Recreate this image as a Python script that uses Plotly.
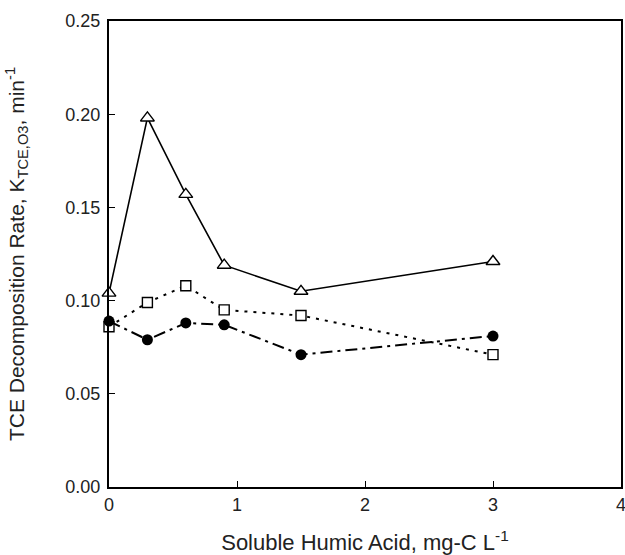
import plotly.graph_objects as go

x_vals = [0, 0.3, 0.6, 0.9, 1.5, 3.0]
triangle_vals = [0.104, 0.198, 0.157, 0.119, 0.105, 0.121]
square_vals = [0.086, 0.099, 0.108, 0.095, 0.092, 0.071]
circle_vals = [0.089, 0.079, 0.088, 0.087, 0.071, 0.081]

x_ticks = [0, 1, 2, 3, 4]
y_ticks = [0.00, 0.05, 0.10, 0.15, 0.20, 0.25]
y_tick_text = ["0.00", "0.05", "0.10", "0.15", "0.20", "0.25"]

fig = go.Figure()
fig.add_trace(go.Scatter(
    x=x_vals, y=triangle_vals, mode="lines+markers",
    line=dict(color="black", width=1.6, dash="solid"),
    marker=dict(symbol="triangle-up", size=12, color="white",
                line=dict(width=1.4, color="black")),
    cliponaxis=False, showlegend=False))
fig.add_trace(go.Scatter(
    x=x_vals, y=square_vals, mode="lines+markers",
    line=dict(color="black", width=2, dash="3px,6px"),
    marker=dict(symbol="square", size=10, color="white",
                line=dict(width=1.4, color="black")),
    cliponaxis=False, showlegend=False))
fig.add_trace(go.Scatter(
    x=x_vals, y=circle_vals, mode="lines+markers",
    line=dict(color="black", width=2, dash="12px,5px,3px,5px"),
    marker=dict(symbol="circle", size=11, color="black"),
    cliponaxis=False, showlegend=False))

font_family = "Liberation Sans, Arial, sans-serif"
fig.update_layout(
    width=625, height=555,
    margin=dict(l=109, r=4, t=21, b=68),
    paper_bgcolor="white", plot_bgcolor="white",
    font=dict(family=font_family, size=18, color="#222"),
    xaxis=dict(
        range=[0, 4], tickvals=x_ticks, ticks="inside", ticklen=6, tickwidth=1.2,
        tickcolor="black", showline=True, linecolor="black", linewidth=2,
        mirror=True, showgrid=False, zeroline=False, automargin=False,
        tickfont=dict(size=18), ticklabeloverflow="allow",
        title=dict(text="Soluble Humic Acid, mg-C L<sup>-1</sup>", font=dict(size=22), standoff=23),
    ),
    yaxis=dict(
        range=[0, 0.25], tickvals=y_ticks, ticktext=y_tick_text, ticks="inside", ticklen=6,
        tickwidth=1.2, tickcolor="black", showline=True, linecolor="black", linewidth=2,
        mirror=True, showgrid=False, zeroline=False, automargin=False,
        tickfont=dict(size=18), ticklabelstandoff=3, ticklabeloverflow="allow",
        title=dict(text="TCE Decomposition Rate, K<sub>TCE,O3</sub>, min<sup>-1</sup>",
                   font=dict(size=21), standoff=35),
    ),
)

fig.write_html(
    "out.html",
    config={"displayModeBar": False},
    post_script="document.body.style.margin='0';document.body.style.overflow='hidden';",
)
